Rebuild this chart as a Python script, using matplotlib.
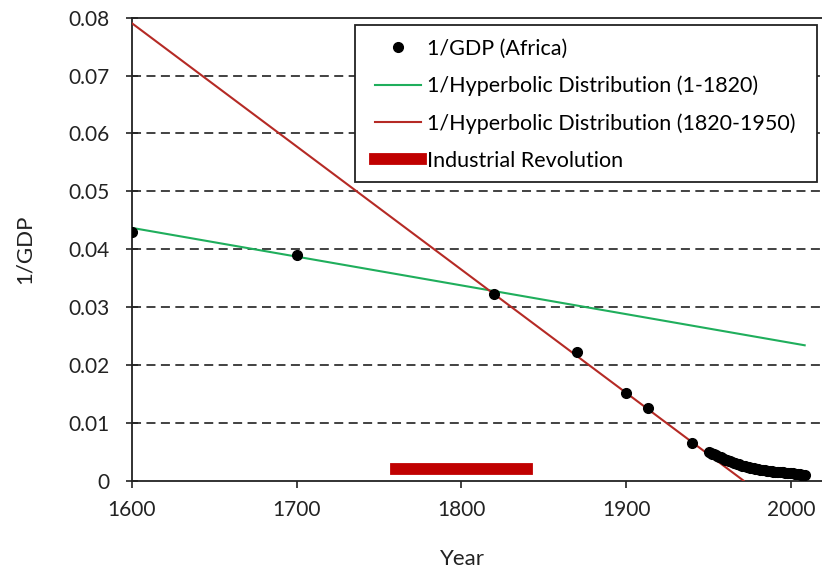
import matplotlib
matplotlib.use('Agg')
import matplotlib.pyplot as plt
from matplotlib.patches import Rectangle

plt.rcParams['font.family'] = ['Lato', 'DejaVu Sans']

# 1/GDP for Africa
years_early = [1600, 1700, 1820, 1870, 1900, 1913, 1940]
inv_gdp_early = [0.0429, 0.0390, 0.0322, 0.0222, 0.0152, 0.0126, 0.0066]

years_late = list(range(1950, 2009))
inv_gdp_late = [0.00496, 0.00482, 0.00468, 0.00455, 0.00441, 0.00428, 0.00416, 0.00403,
                0.00390, 0.00378, 0.00366, 0.00356, 0.00345, 0.00333, 0.00320, 0.00310,
                0.00301, 0.00293, 0.00282, 0.00271, 0.00262, 0.00255, 0.00247, 0.00240,
                0.00232, 0.00226, 0.00218, 0.00211, 0.00206, 0.00199, 0.00194, 0.00190,
                0.00186, 0.00183, 0.00179, 0.00175, 0.00171, 0.00167, 0.00163, 0.00159,
                0.00156, 0.00153, 0.00150, 0.00148, 0.00146, 0.00143, 0.00140, 0.00137,
                0.00134, 0.00132, 0.00129, 0.00126, 0.00123, 0.00119, 0.00115, 0.00111,
                0.00107, 0.00103, 0.00099]

# hyperbolic fits (straight lines in 1/GDP)
hyp1_years = [1600, 2008]
hyp1_vals = [0.0437, 0.0234]
hyp2_years = [1600, 1971]
hyp2_vals = [0.0791, 0.0]

ir_years = [1760, 1840]
ir_level = [0.002, 0.002]

fig = plt.figure(figsize=(8.22, 5.72), dpi=100)
ax = fig.add_axes([0.160, 0.1596, 0.840, 0.8094])

for yv in [0.01, 0.02, 0.03, 0.04, 0.05, 0.06, 0.07]:
	ax.axhline(yv, color='#333333', lw=1.3, ls=(0, (5, 3)), zorder=0)

years_all = years_early + years_late
vals_all = inv_gdp_early + inv_gdp_late
ax.plot(years_all, vals_all, 'o', color='black', ms=7, label='1/GDP (Africa)', zorder=4)
ax.plot(hyp1_years, hyp1_vals, color='#1fae5c', lw=1.5, label='1/Hyperbolic Distribution (1-1820)', zorder=3)
ax.plot(hyp2_years, hyp2_vals, color='#b52a25', lw=1.5, label='1/Hyperbolic Distribution (1820-1950)', zorder=3)
ax.plot(ir_years, ir_level, color='#c00000', lw=8.5, solid_capstyle='projecting',
		label='Industrial Revolution', zorder=3)

ax.set_xlim(1600, 2018.5)
ax.set_ylim(0, 0.08)
ax.set_xticks([1600, 1700, 1800, 1900, 2000])
ax.set_yticks([0, 0.01, 0.02, 0.03, 0.04, 0.05, 0.06, 0.07, 0.08])
ax.set_yticklabels(['0', '0.01', '0.02', '0.03', '0.04', '0.05', '0.06', '0.07', '0.08'])

ax.spines['right'].set_visible(False)
for s in ['left', 'bottom', 'top']:
	ax.spines[s].set_linewidth(1.3)
	ax.spines[s].set_color('#222222')

ax.tick_params(axis='y', direction='inout', length=9, width=1.2, pad=11, labelsize=15, colors='#222222')
ax.tick_params(axis='x', direction='out', length=5, width=1.2, pad=9, labelsize=15, colors='#222222')

ax.set_xlabel('Year', fontsize=16, color='#222222')
ax.set_ylabel('1/GDP', fontsize=16, color='#222222')
ax.xaxis.set_label_coords(0.48, -0.148)
ax.yaxis.set_label_coords(-0.140, 0.5)

# legend frame drawn separately (wider side padding than top/bottom)
box = Rectangle((0.3235, 0.645), 0.6695, 0.339, transform=ax.transAxes, facecolor='white',
				edgecolor='#222222', lw=1.3, zorder=5)
ax.add_patch(box)

leg = ax.legend(loc='upper left', bbox_to_anchor=(0.3525, 0.954), fontsize=15.5,
				frameon=False, handlelength=2.15, handletextpad=0.25, labelspacing=0.78,
				borderpad=0, borderaxespad=0)
leg.set_zorder(6)

fig.savefig('out.png', dpi=100)
